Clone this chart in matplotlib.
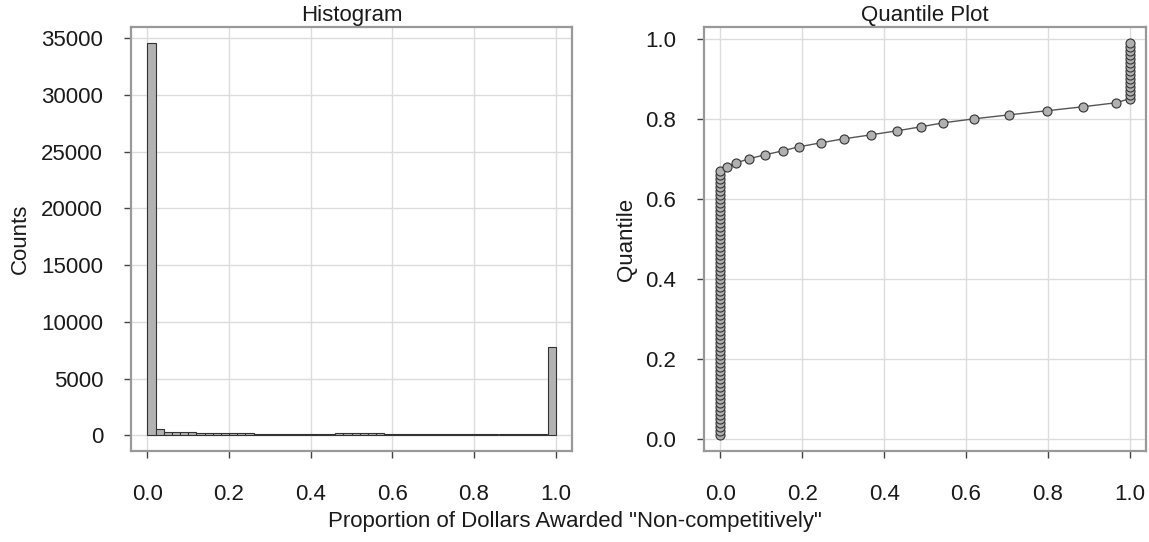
import numpy as np
import matplotlib
matplotlib.use("Agg")
import matplotlib.pyplot as plt

plt.rcParams["font.family"] = ["Liberation Sans", "DejaVu Sans"]

# Histogram of the proportion of dollars awarded non-competitively (bins of 0.02)
bin_edges = np.linspace(0.0, 1.0, 51)
hist_counts = [
    34600, 520, 330, 300, 280, 250, 230, 220, 210, 200,
    180, 170, 160, 150, 150, 150, 140, 130, 150, 140,
    130, 140, 140, 160, 170, 200, 180, 170, 160, 150,
    120, 110, 110, 110, 100, 100, 100, 100, 100, 100,
    100, 100, 90, 90, 90, 90, 90, 90, 90, 7800,
]

# Quantiles 0.01 ... 0.99 of the same proportion
quantile_levels = np.round(np.arange(1, 100) / 100.0, 2)
quantile_values = (
    [0.0] * 67
    + [0.017, 0.039, 0.069, 0.108, 0.152, 0.191, 0.245, 0.301, 0.368,
       0.431, 0.490, 0.544, 0.620, 0.706, 0.797, 0.885, 0.966]
    + [1.0] * 15
)

hist_yticks = [0, 5000, 10000, 15000, 20000, 25000, 30000, 35000]
quant_yticks = [0.0, 0.2, 0.4, 0.6, 0.8, 1.0]
xticks = [0.0, 0.2, 0.4, 0.6, 0.8, 1.0]

W, H = 1149, 542
fig = plt.figure(figsize=(W / 100, H / 100), dpi=100)
fig.patch.set_facecolor("white")


def px_axes(x0, y0, x1, y1):
    return fig.add_axes([x0 / W, 1 - y1 / H, (x1 - x0) / W, (y1 - y0) / H])


ax1 = px_axes(131, 27, 572, 451)
ax2 = px_axes(704, 27, 1146, 451)

text_color = "#1a1a1a"
fs = 16

for ax in (ax1, ax2):
    ax.set_axisbelow(True)
    ax.grid(True, color="#dcdcdc", linewidth=1.0)
    for sp in ax.spines.values():
        sp.set_color("#999999")
        sp.set_linewidth(1.6)
    ax.set_xlim(-0.04, 1.04)
    ax.set_xticks(xticks)
    ax.set_xticklabels([f"{t:.1f}" for t in xticks])
    ax.tick_params(axis="x", direction="out", length=5, width=1.0,
                   color="#444444", labelsize=fs, labelcolor=text_color, pad=19)
    ax.tick_params(axis="y", direction="out", length=5, width=1.0,
                   color="#444444", labelsize=fs, labelcolor=text_color, pad=15)

# Histogram panel
widths = np.diff(bin_edges)
ax1.bar(bin_edges[:-1], hist_counts, width=widths, align="edge",
        color="#b2b2b2", edgecolor="#333333", linewidth=0.8, zorder=2)
ax1.set_ylim(-1384, 35984)
ax1.set_yticks(hist_yticks)
ax1.set_yticklabels([str(t) for t in hist_yticks])
ax1.set_title("Histogram", fontsize=fs, color=text_color, pad=4)

# Quantile panel
ax2.plot(quantile_values, quantile_levels, color="#555555", linewidth=1.0,
         marker="o", markersize=6.5, markerfacecolor="#b0b0b0",
         markeredgecolor="#333333", markeredgewidth=0.8, zorder=3)
ax2.set_ylim(-0.0292, 1.0292)
ax2.set_yticks(quant_yticks)
ax2.set_yticklabels([f"{t:.1f}" for t in quant_yticks])
ax2.set_title("Quantile Plot", fontsize=fs, color=text_color, pad=4)

# Shared axis labels
fig.text(20 / W, 1 - 239 / H, "Counts", rotation=90, ha="center", va="center",
         fontsize=fs, color=text_color)
fig.text(626 / W, 1 - 239 / H, "Quantile", rotation=90, ha="center", va="center",
         fontsize=fs, color=text_color)
fig.text(0.5, 1 - 521 / H, 'Proportion of Dollars Awarded "Non-competitively"',
         ha="center", va="center", fontsize=fs, color=text_color)

fig.savefig("out.png", dpi=100, facecolor="white")
